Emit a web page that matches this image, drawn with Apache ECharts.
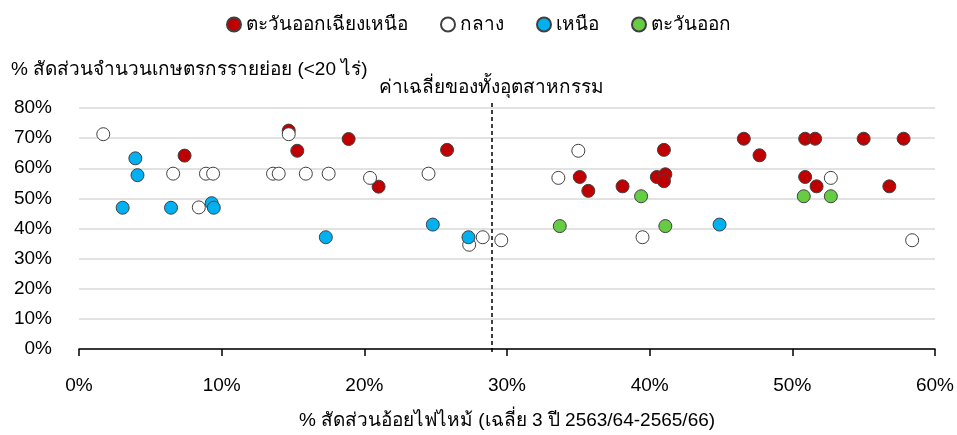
<!DOCTYPE html>
<html><head><meta charset="utf-8">
<script src="https://cdn.jsdelivr.net/npm/echarts@6/dist/echarts.min.js"></script>
<style>html,body{margin:0;padding:0;background:#fff}#c{width:957px;height:435px}</style>
</head><body><div id="c"></div>
<script>
const seriesNames = ['ตะวันออกเฉียงเหนือ', 'กลาง', 'เหนือ', 'ตะวันออก'];
const northeast = [[7.4,64.2],[14.7,72.5],[15.3,65.8],[18.9,69.7],[21.0,53.9],[25.8,66.1],[35.1,57.1],[35.7,52.5],[38.1,54.0],[40.5,57.1],[41.0,66.1],[41.1,58.0],[41.0,55.7],[46.6,69.8],[47.7,64.3],[50.9,69.8],[51.6,69.8],[50.9,57.1],[51.7,54.0],[55.0,69.8],[57.8,69.8],[56.8,54.0]];
const central = [[1.7,71.3],[6.6,58.2],[8.4,47.0],[8.9,58.2],[9.4,58.2],[13.6,58.2],[14.0,58.2],[14.7,71.3],[15.9,58.2],[17.5,58.2],[20.4,56.8],[24.5,58.2],[27.35,34.6],[28.3,37.1],[29.6,36.1],[33.6,56.8],[35.0,65.8],[39.5,37.1],[52.7,56.8],[58.4,36.1]];
const north = [[3.95,63.3],[4.1,57.7],[3.06,46.9],[6.45,46.9],[9.3,48.4],[9.45,46.9],[17.3,37.1],[24.8,41.3],[27.3,37.1],[44.9,41.3]];
const east = [[33.7,40.8],[39.4,50.7],[41.1,40.8],[50.8,50.7],[52.7,50.7]];
const industryAverage = 28.9;
const avgLabel = 'ค่าเฉลี่ยของทั้งอุตสาหกรรม';
const xTitle = '% สัดส่วนอ้อยไฟไหม้ (เฉลี่ย 3 ปี 2563/64-2565/66)';
const yTitle = '% สัดส่วนจำนวนเกษตรกรรายย่อย (<20 ไร่)';
const colors = ['#C00000', '#FFFFFF', '#00B0F0', '#66CC44'];

const FONT = "'Liberation Sans', 'Noto Sans', sans-serif";
const chart = echarts.init(document.getElementById('c'));
const dataSets = [northeast, central, north, east];
const scatterSeries = dataSets.map((d, i) => ({
  name: seriesNames[i], type: 'scatter', data: d, symbolSize: 13,
  xAxisIndex: 0, yAxisIndex: 0,
  itemStyle: { color: colors[i], borderColor: '#404040', borderWidth: 1, opacity: 1 },
  emphasis: { disabled: true }
}));
scatterSeries.push({
  type: 'line', data: [], xAxisIndex: 1, yAxisIndex: 1, silent: true,
  markLine: {
    symbol: 'none', silent: true, animation: false,
    lineStyle: { color: '#000', type: [4, 3], width: 1.5 },
    label: { show: true, position: 'end', formatter: avgLabel, color: '#000', fontSize: 19, fontFamily: FONT, distance: 3 },
    data: [[{ coord: [industryAverage, 0] }, { coord: [industryAverage, 1] }]]
  }
});
chart.setOption({
  animation: false,
  textStyle: { fontFamily: FONT },
  title: { text: yTitle, left: 6, top: 55, textStyle: { fontSize: 19, fontWeight: 'normal', color: '#000', fontFamily: FONT } },
  legend: {
    top: 10, left: 'center', itemWidth: 14, itemHeight: 14, itemGap: 32,
    textStyle: { fontSize: 19, color: '#000', fontFamily: FONT },
    data: seriesNames.map(n => ({ name: n, icon: 'circle' }))
  },
  grid: [
    { left: 79, right: 22, top: 108, bottom: 83 },
    { left: 79, right: 22, top: 100, bottom: 83 }
  ],
  xAxis: [{
    gridIndex: 0, type: 'value', min: 0, max: 60, interval: 10,
    name: xTitle, nameLocation: 'middle', nameGap: 62,
    nameTextStyle: { fontSize: 19, color: '#000', fontFamily: FONT },
    axisLine: { show: true, onZero: false, lineStyle: { color: '#000', width: 1.5 } },
    axisTick: { show: true, length: 7, lineStyle: { color: '#000', width: 1.5 } },
    axisLabel: { formatter: '{value}%', fontSize: 19, color: '#000', margin: 27, fontFamily: FONT },
    splitLine: { show: false }
  }, {
    gridIndex: 1, type: 'value', min: 0, max: 60, show: false
  }],
  yAxis: [{
    gridIndex: 0, type: 'value', min: 0, max: 80, interval: 10,
    axisLine: { show: false }, axisTick: { show: false },
    axisLabel: { formatter: '{value}%', fontSize: 19, color: '#000', margin: 27, fontFamily: FONT },
    splitLine: { show: true, lineStyle: { color: '#D9D9D9', width: 1.5 } }
  }, {
    gridIndex: 1, type: 'value', min: 0, max: 1, show: false
  }],
  series: scatterSeries
});
</script></body></html>
